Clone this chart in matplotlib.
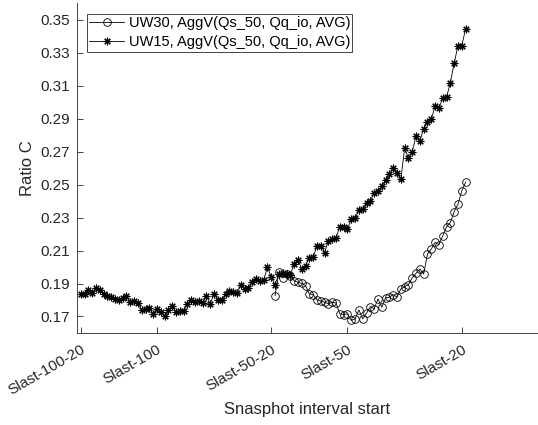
import numpy as np
import matplotlib.pyplot as plt

plt.rcParams['font.family'] = ['Liberation Sans', 'DejaVu Sans']
plt.rcParams['font.size'] = 11

# UW15 series (stars), x offset from Slast
uw15_x = np.arange(-120, -18)
uw15 = [0.1835, 0.1839, 0.1863, 0.1843, 0.1871, 0.1863, 0.1835, 0.1824, 0.1818, 0.1806,
        0.1798, 0.1814, 0.1822, 0.1788, 0.1794, 0.1782, 0.1741, 0.1747, 0.1749, 0.1716,
        0.1745, 0.1727, 0.1704, 0.1737, 0.1761, 0.1727, 0.1731, 0.1733, 0.1778, 0.1802,
        0.1788, 0.1794, 0.1782, 0.1822, 0.1778, 0.1839, 0.1802, 0.1798, 0.1839, 0.1855,
        0.1849, 0.1843, 0.1892, 0.1869, 0.1873, 0.1910, 0.1928, 0.1916, 0.1920, 0.2000,
        0.1937, 0.1893, 0.1958, 0.1965, 0.1955, 0.1950, 0.2020, 0.2042, 0.1988, 0.2008,
        0.2055, 0.2062, 0.2129, 0.2129, 0.2088, 0.2159, 0.2169, 0.2179, 0.2244, 0.2244,
        0.2230, 0.2290, 0.2300, 0.2344, 0.2350, 0.2390, 0.2401, 0.2451, 0.2461, 0.2491,
        0.2526, 0.2562, 0.2598, 0.2572, 0.2532, 0.2719, 0.2663, 0.2700, 0.2793, 0.2763,
        0.2840, 0.2880, 0.2898, 0.2974, 0.2964, 0.3024, 0.3029, 0.3119, 0.3236, 0.3343,
        0.3343, 0.3444]

# UW30 series (circles)
uw30_x = np.arange(-69, -18)
uw30 = [0.1827, 0.1968, 0.1934, 0.1958, 0.1948, 0.1917, 0.1907, 0.1901, 0.1887, 0.1837,
        0.1833, 0.1801, 0.1793, 0.1787, 0.1777, 0.1787, 0.1781, 0.1716, 0.1712, 0.1716,
        0.1676, 0.1686, 0.1740, 0.1686, 0.1720, 0.1760, 0.1746, 0.1807, 0.1756, 0.1813,
        0.1817, 0.1833, 0.1817, 0.1867, 0.1881, 0.1893, 0.1934, 0.1962, 0.1988, 0.1958,
        0.2079, 0.2109, 0.2149, 0.2135, 0.2189, 0.2244, 0.2270, 0.2336, 0.2381, 0.2461,
        0.2515]

tick_pos = [-120, -100, -70, -50, -20]
tick_lab = ['Slast-100-20', 'Slast-100', 'Slast-50-20', 'Slast-50', 'Slast-20']
y_ticks = np.arange(0.17, 0.351, 0.02)

fig = plt.figure(figsize=(5.38, 4.25), dpi=100)
ax = fig.add_axes([0.143, 0.2165, 0.857, 0.776])

ax.plot(uw30_x, uw30, color='k', lw=0.6, marker='o', ms=5.5, mfc='none', mew=0.6,
        label='UW30, AggV(Qs_50, Qq_io, AVG)')
ax.plot(uw15_x, uw15, color='k', lw=0.6, marker=(8, 2, 0), ms=5.5, mew=0.8,
        label='UW15, AggV(Qs_50, Qq_io, AVG)')

ax.set_xlim(-121, 0)
ax.set_ylim(0.16, 0.36)
ax.set_xticks(tick_pos)
ax.set_xticklabels(tick_lab, rotation=30, ha='right', rotation_mode='anchor')
ax.set_yticks(y_ticks)
ax.set_yticklabels(['%.2f' % v for v in y_ticks])

for s in ['top', 'right']:
    ax.spines[s].set_visible(False)
for s in ['left', 'bottom']:
    ax.spines[s].set_color('#262626')
    ax.spines[s].set_linewidth(0.6)
ax.tick_params(direction='in', length=4, width=0.6, colors='#262626', labelsize=11)
ax.tick_params(axis='x', pad=7)
ax.tick_params(axis='y', pad=5)

ax.set_xlabel('Snasphot interval start', color='#262626', fontsize=12, labelpad=3)
ax.set_ylabel('Ratio C', color='#262626', fontsize=12, labelpad=4)

leg = ax.legend(loc='upper left', bbox_to_anchor=(0.022, 0.967), fancybox=False,
                edgecolor='#262626', framealpha=1, handlelength=2.4, fontsize=10.5,
                borderpad=0.15, labelspacing=0.35, handletextpad=0.3, borderaxespad=0)
leg.get_frame().set_linewidth(0.6)

fig.savefig('out.png', dpi=100)
